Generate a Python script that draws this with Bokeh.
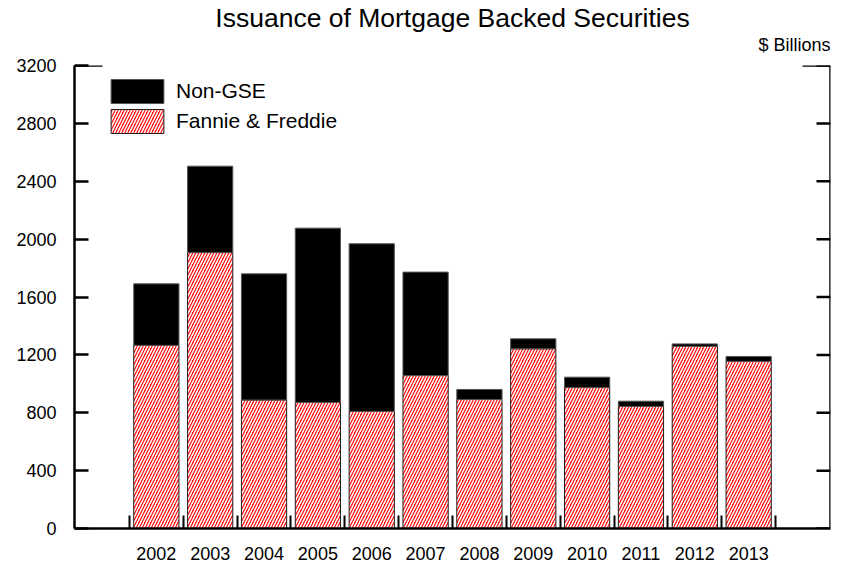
from bokeh.plotting import figure
from bokeh.models import (ColumnDataSource, Range1d, FixedTicker,
                          Legend, LegendItem, Title, Arrow)
from bokeh.embed import file_html
from bokeh.resources import INLINE

# ---- data ($ billions) ----
years = ["2002", "2003", "2004", "2005", "2006", "2007",
         "2008", "2009", "2010", "2011", "2012", "2013"]
fannie_freddie = [1265, 1907, 888, 871, 809, 1057, 892, 1242, 974, 843, 1258, 1154]
non_gse = [426, 597, 872, 1205, 1159, 715, 69, 69, 72, 37, 18, 35]
y_ticks = [0, 400, 800, 1200, 1600, 2000, 2400, 2800, 3200]

title_text = "Issuance of Mortgage Backed Securities"
unit_text = "$ Billions"

FONT = "Liberation Sans"

x = [i + 0.5 for i in range(len(years))]
total = [a + b for a, b in zip(fannie_freddie, non_gse)]
src = ColumnDataSource(dict(x=x, ff=fannie_freddie, ng=non_gse, total=total))

x_lo, x_hi = -1.02, len(years) + 1.02
y_lo, y_hi = 0, 3200

p = figure(width=845, height=565,
           x_range=Range1d(x_lo, x_hi), y_range=Range1d(y_lo, y_hi),
           output_backend="svg", toolbar_location=None,
           min_border_left=74, min_border_right=15,
           min_border_top=65, min_border_bottom=37)
p.xgrid.visible = False
p.ygrid.visible = False
p.outline_line_color = None
p.background_fill_color = "white"
p.border_fill_color = "white"

# titles (main title on top, unit label just above the frame, right aligned)
p.title.text = title_text
p.title.align = "center"
p.title.text_font = FONT
p.title.text_font_size = "26.5px"
p.title.text_font_style = "normal"
p.title.text_color = "black"
p.title.standoff = -22
p.add_layout(Title(text=unit_text, align="right", text_font=FONT,
                   text_font_size="18px", text_font_style="normal",
                   text_color="black", standoff=22), "above")

r_ff = p.vbar(x="x", bottom=0, top="ff", width=0.84, source=src,
              fill_color="#ff0000", hatch_pattern="/", hatch_color="white",
              hatch_scale=6, hatch_weight=1.6,
              line_color="#222222", line_width=1)
r_ng = p.vbar(x="x", bottom="ff", top="total", width=0.84, source=src,
              fill_color="black", line_color="#555555", line_width=1)

# x axis: labels at bar centres, small inward ticks between bars
xa = p.xaxis[0]
xa.ticker = FixedTicker(ticks=x, minor_ticks=list(range(len(years) + 1)))
xa.major_label_overrides = {xi: yr for xi, yr in zip(x, years)}
xa.major_tick_in = 0
xa.major_tick_out = 0
xa.minor_tick_in = 13
xa.minor_tick_out = 0
xa.minor_tick_line_width = 2
xa.minor_tick_line_color = "black"
xa.axis_line_width = 2.5
xa.major_label_text_font = FONT
xa.major_label_text_font_size = "18px"
xa.major_label_text_color = "black"
xa.major_label_standoff = 18

# y axis left
ya = p.yaxis[0]
ya.ticker = FixedTicker(ticks=y_ticks)
ya.major_tick_in = 14
ya.major_tick_out = 0
ya.major_tick_line_width = 2.5
ya.minor_tick_line_color = None
ya.axis_line_width = 2.5
ya.major_label_text_font = FONT
ya.major_label_text_font_size = "18px"
ya.major_label_text_color = "black"
ya.major_label_standoff = 18

# right border line with inward ticks (no labels)
px_per_x = 756 / (x_hi - x_lo)
tick_len = 14 / px_per_x
p.add_layout(Arrow(end=None, x_start=x_hi, y_start=y_lo, x_end=x_hi,
                   y_end=y_hi, line_width=2.5, line_color="black"))
for t in y_ticks:
    p.add_layout(Arrow(end=None, x_start=x_hi - tick_len, y_start=t,
                       x_end=x_hi, y_end=t, line_width=2.5, line_color="black"))

# top corner stubs
stub = 28 / px_per_x
p.add_layout(Arrow(end=None, x_start=x_lo, y_start=y_hi, x_end=x_lo + stub,
                   y_end=y_hi, line_width=2.5, line_color="black"))
p.add_layout(Arrow(end=None, x_start=x_hi - stub, y_start=y_hi, x_end=x_hi,
                   y_end=y_hi, line_width=2.5, line_color="black"))

legend = Legend(items=[LegendItem(label="Non-GSE", renderers=[r_ng]),
                       LegendItem(label="Fannie & Freddie", renderers=[r_ff])],
                location=(30, 392), glyph_width=66, glyph_height=30,
                spacing=0, padding=0, margin=0, label_standoff=6,
                label_text_font=FONT, label_text_font_size="21px",
                label_text_color="black",
                border_line_alpha=0, background_fill_alpha=0)
p.add_layout(legend)

open("out.html", "w").write(file_html(p, INLINE))
